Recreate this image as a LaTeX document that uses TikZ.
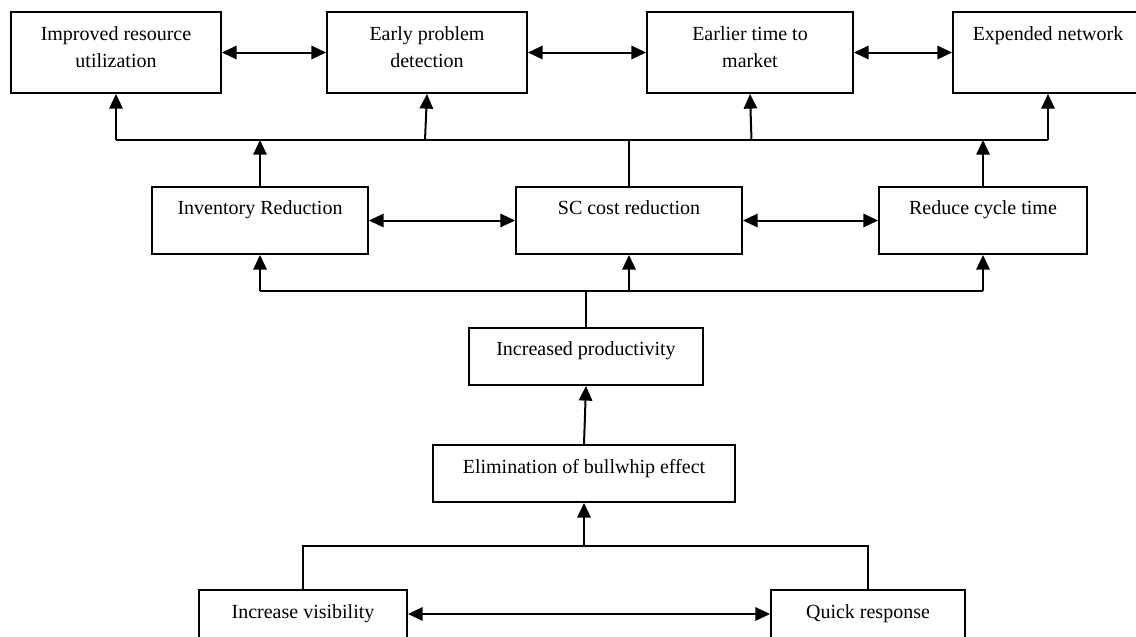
\documentclass[tikz,border=0pt]{standalone}
\usepackage{fontspec}
\setmainfont{Liberation Serif}
\usetikzlibrary{arrows.meta,fit,calc}
\begin{document}
\begin{tikzpicture}[x=0.75pt,y=-0.75pt,
  box/.style={draw,line width=1.4pt,inner sep=0pt,rectangle},
  txt/.style={font=\fontsize{15}{20.25}\selectfont,align=center,inner sep=0pt,anchor=north},
  ln/.style={line width=1.5pt},
  arr/.style={ln,-{Triangle[length=11pt,width=10pt]}},
  darr/.style={ln,{Triangle[length=11pt,width=10pt]}-{Triangle[length=11pt,width=10pt]}}]
\useasboundingbox (0,0) rectangle (1136,636);
% top row
\node[box,fit={(11,12) (221,93)}] (b1) {};
\node[box,fit={(327,12) (527,93)}] (b2) {};
\node[box,fit={(647,12) (853,93)}] (b3) {};
\node[box,fit={(953,12) (1143,93)}] (b4) {};
\node[txt] (b1t) at ($(b1.north)+(0,15)$) {Improved resource\\utilization};
\node[txt] (b2t) at ($(b2.north)+(0,15)$) {Early problem\\detection};
\node[txt] (b3t) at ($(b3.north)+(0,15)$) {Earlier time to\\market};
\node[txt] (b4t) at ($(b4.north)+(0,15)$) {Expended network};
% middle row
\node[box,fit={(152,187) (368,254)}] (m1) {};
\node[box,fit={(516,187) (742,254)}] (m2) {};
\node[box,fit={(879,187) (1087,254)}] (m3) {};
\node[txt] (m1t) at ($(m1.north)+(0,14.5)$) {Inventory Reduction};
\node[txt] (m2t) at ($(m2.north)+(0,14.5)$) {SC cost reduction};
\node[txt] (m3t) at ($(m3.north)+(0,14.5)$) {Reduce cycle time};
% lower
\node[box,fit={(469,328) (703,385)}] (ip) {};
\node[txt] (ipt) at ($(ip.north)+(0,14.5)$) {Increased productivity};
\node[box,fit={(433,445) (735,502)}] (el) {};
\node[txt] (elt) at ($(el.north)+(0,15.5)$) {Elimination of bullwhip effect};
\node[box,fit={(199,590) (407,650)}] (iv) {};
\node[txt] (ivt) at ($(iv.north)+(0,15)$) {Increase visibility};
\node[box,fit={(771,590) (965,650)}] (qr) {};
\node[txt] (qrt) at ($(qr.north)+(0,15)$) {Quick response};
% top horizontal arrows
\draw[darr] (b1.east) -- (b2.west);
\draw[darr] (b2.east) -- (b3.west);
\draw[darr] (b3.east) -- (b4.west);
% top bus
\coordinate (tbL) at (116,140);
\coordinate (tbR) at (1048,140);
\coordinate (tb2) at (425,140);
\coordinate (tb3) at (751.5,140);
\draw[ln] (tbL) -- (tbR);
\draw[arr] (tbL) -- (b1.south);
\draw[arr] (tb2) -- (b2.south);
\draw[arr] (tb3) -- (b3.south);
\draw[arr] (tbR) -- (b4.south);
\draw[arr] (m1.north) -- (m1.north |- tbL);
\draw[ln] (m2.north) -- (m2.north |- tbL);
\draw[arr] (m3.north) -- (m3.north |- tbL);
% middle horizontal arrows
\draw[darr] (m1.east) -- (m2.west);
\draw[darr] (m2.east) -- (m3.west);
% lower bus
\coordinate (lbL) at (260,291);
\coordinate (lbR) at (983,291);
\draw[ln] (lbL) -- (lbR);
\draw[arr] (lbL) -- (m1.south);
\draw[arr] (m2.south |- lbL) -- (m2.south);
\draw[arr] (lbR) -- (m3.south);
\draw[ln] (ip.north) -- (ip.north |- lbL);
\draw[arr] (el.north) -- (ip.south);
% bottom bus
\coordinate (bbL) at (303,546);
\coordinate (bbR) at (868,546);
\draw[ln] (iv.north) -- (bbL) -- (bbR) -- (qr.north);
\draw[arr] (el.south |- bbL) -- (el.south);
\draw[darr] ([yshift=4.5pt]iv.east) -- ([yshift=4.5pt]qr.west);
\end{tikzpicture}
\end{document}
